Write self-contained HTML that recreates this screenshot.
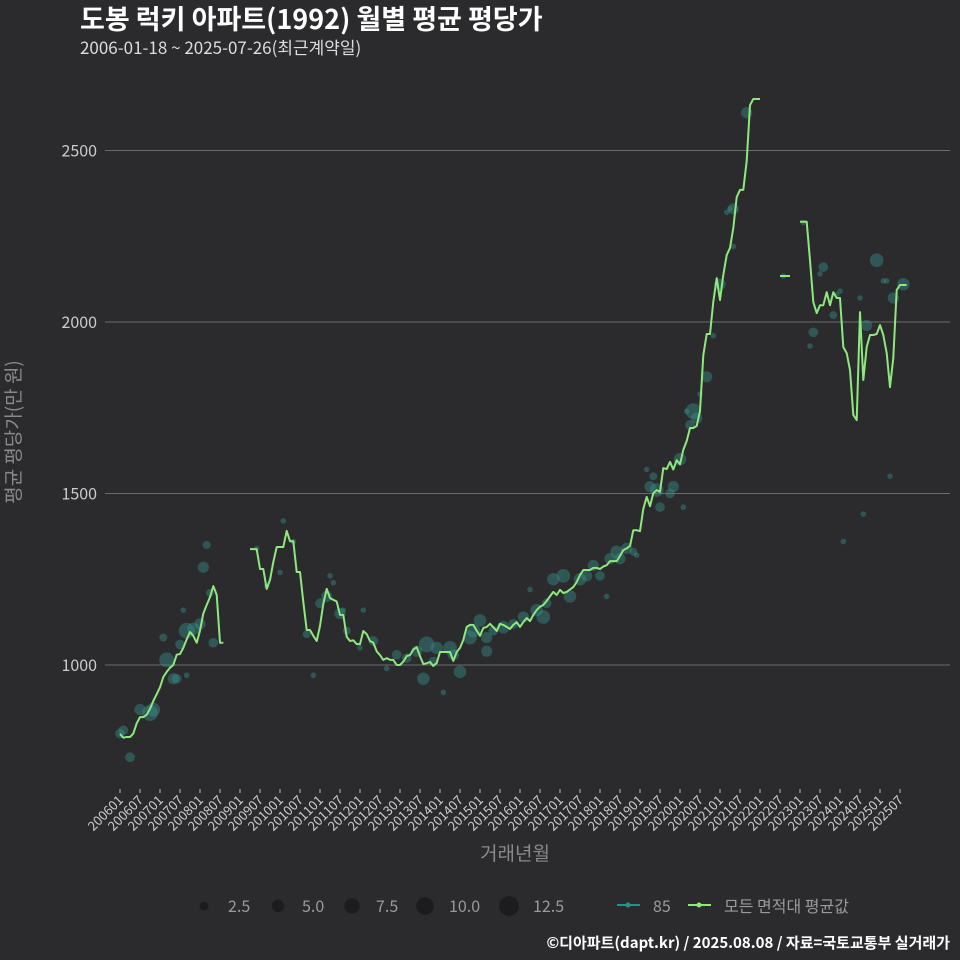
<!DOCTYPE html>
<html><head><meta charset="utf-8">
<style>
html,body{margin:0;padding:0;background:#2b2b2d;}
svg{display:block;font-family:"Noto Sans CJK KR","Liberation Sans",sans-serif;}
</style></head>
<body>
<svg id="chart" width="960" height="960" viewBox="0 0 960 960">
<rect width="960" height="960" fill="#2b2b2d"/>
<text x="80" y="29" fill="#ffffff" font-size="27" font-weight="bold">도봉 럭키 아파트(1992) 월별 평균 평당가</text>
<text x="80" y="54" fill="#dddddd" font-size="17">2006-01-18 ~ 2025-07-26(최근계약일)</text>
<g id="grid"></g>
<g id="yticks"></g>
<g id="xticks"></g>
<g id="bubbles"></g>
<g id="lines"></g>
<text x="20" y="432" fill="#8a8a8a" font-size="19" text-anchor="middle" transform="rotate(-90 20 432)">평균 평당가(만 원)</text>
<text x="515" y="860" fill="#8a8a8a" font-size="19" text-anchor="middle">거래년월</text>
<g id="legend"></g>
<text x="950" y="948" fill="#ffffff" font-size="15" font-weight="bold" text-anchor="end">©디아파트(dapt.kr) / 2025.08.08 / 자료=국토교통부 실거래가</text>
</svg>
<script>
const yTicks=[1000,1500,2000,2500];
const segStarts=[0,39,198,204];
const seg1=[799,788,790,790,800,830,848,848,855,872,895,915,935,965,980,992,1000,1030,1032,1050,1075,1096,1085,1065,1100,1150,1175,1198,1230,1205,1065,1065];
const seg2=[1338,1338,1338,1280,1280,1222,1248,1300,1344,1344,1344,1391,1361,1361,1271,1271,1184,1102,1102,1085,1070,1114,1178,1222,1195,1190,1185,1146,1146,1082,1070,1072,1061,1061,1099,1090,1070,1065,1040,1029,1015,1020,1015,1015,1000,1000,1010,1026,1029,1045,1052,1026,1003,1005,1009,997,1006,1038,1038,1038,1038,1012,1038,1050,1073,1111,1117,1117,1100,1085,1108,1111,1120,1110,1099,1120,1117,1111,1105,1117,1125,1111,1125,1137,1128,1146,1160,1170,1175,1187,1200,1213,1204,1219,1210,1213,1220,1227,1242,1262,1277,1277,1277,1283,1283,1280,1287,1291,1303,1303,1303,1318,1335,1340,1347,1393,1393,1390,1455,1490,1463,1501,1510,1505,1574,1571,1592,1570,1597,1585,1627,1653,1691,1691,1697,1740,1903,1965,1965,2059,2128,2064,2137,2195,2216,2274,2364,2385,2385,2470,2632,2650,2650,2650];
const seg3=[2134,2134,2134,2134];
const seg4=[2292,2292,2292,2180,2058,2026,2049,2049,2087,2049,2087,2070,2070,1927,1909,1860,1729,1714,2029,1831,1927,1962,1962,1965,1991,1962,1909,1810,1895,2093,2108,2108,2108];
const bubbleMonths=[0,1,6,3,9,10,14,16,17,13,18,20,22,24,25,26,28,19,20,27,41,44,48,49,52,58,56,62,64,63,60,66,68,67,73,72,76,80,83,86,89,92,91,95,94,97,99,100,102,105,106,108,110,110,112,115,118,121,125,123,127,128,130,133,135,138,140,142,144,146,147,149,150,152,154,155,158,159,160,161,162,165,166,168,169,170,171,172,173,174,176,178,180,182,184,183,184,188,199,205,207,208,210,211,214,215,216,217,222,223,224,227,229,231,232,235,230];
const bubbleValues=[800,810,870,731,860,870,1015,960,960,1080,1060,1100,1105,1120,1285,1350,1065,1160,970,1210,1340,1230,1270,1420,1360,970,1090,1200,1240,1260,1180,1150,1100,1160,1160,1050,1070,990,1030,1020,1040,1060,960,1050,1010,920,1050,1030,980,1080,1100,1130,1080,1040,1100,1110,1120,1140,1160,1220,1140,1180,1250,1260,1200,1250,1260,1290,1260,1200,1310,1330,1310,1340,1330,1320,1570,1520,1550,1510,1460,1500,1520,1600,1460,1740,1700,1740,1720,1790,1840,1960,2110,2320,2330,2330,2220,2610,2134,2290,1930,1970,2140,2160,2020,2080,2090,1360,2070,1440,1990,2180,2120,1550,2070,2110,2120];
const bubbleCounts=[3,3,4,3,8,6,7,4,3,2,3,8,5,4,4,2,3,1,1,2,1,1,1,1,1,1,2,4,1,1,3,4,2,1,1,1,3,1,3,3,4,8,5,5,3,1,6,4,5,6,6,5,4,4,3,5,3,4,5,1,6,3,5,6,5,5,4,4,3,1,4,5,4,4,2,1,1,4,2,6,3,3,4,5,1,1,3,8,4,1,4,1,4,1,4,1,1,4,1,1,1,3,1,3,2,1,1,1,1,1,4,6,1,1,4,5,1];
const xLabels=[];
for(let y=2006;y<=2025;y++){xLabels.push(y+"01");xLabels.push(y+"07");}

const NS="http://www.w3.org/2000/svg";
const L=105,R=950;
function xS(m){return 120+m*3.3333;}
function yS(v){return 665-(v-1000)*171.5/500;}
function mk(tag,attrs,parent){const e=document.createElementNS(NS,tag);for(const k in attrs)e.setAttribute(k,attrs[k]);parent.appendChild(e);return e;}

const grid=document.getElementById('grid'),yt=document.getElementById('yticks');
yTicks.forEach(v=>{
  const ln=mk('line',{x1:L,x2:R,y1:yS(v),y2:yS(v),stroke:'#6b6b6b','stroke-width':1},grid);
  
  
  const t=mk('text',{x:97,y:yS(v)+6,fill:'#cccccc','font-size':16,'text-anchor':'end'},yt);
  t.textContent=v;
  
  
});
const xt=document.getElementById('xticks');
xLabels.forEach((lab,i)=>{
  const x=xS(i*6);
  const tk=mk('line',{x1:x,x2:x,y1:789,y2:793,stroke:'#bbbbbb','stroke-width':1},xt);
  
  
  const t=mk('text',{x:x+4,y:801,fill:'#cccccc','font-size':13,'text-anchor':'end',transform:'rotate(-45 '+(x+4)+' 801)'},xt);
  t.textContent=lab;
  
  
});
const bg=document.getElementById('bubbles');
bubbleMonths.forEach((m,i)=>{
  const c=mk('circle',{cx:xS(m),cy:yS(bubbleValues[i]),r:2.8*Math.sqrt(bubbleCounts[i]),fill:'#3a9890','fill-opacity':0.4},bg);
  
  
});
const lg=document.getElementById('lines');
[seg1,seg2,seg3,seg4].forEach((s,k)=>{
  const d=s.map((v,i)=>(i?'L':'M')+xS(segStarts[k]+i).toFixed(1)+','+yS(v).toFixed(1)).join('');
  const p=mk('path',{d:d,fill:'none',stroke:'#8ee87e','stroke-width':2,'stroke-linejoin':'round'},lg);
  
  
});
const leg=document.getElementById('legend');
const sizes=[2.5,5.0,7.5,10.0,12.5],sx=[204,278,352,425,509];
sizes.forEach((s,i)=>{
  const c=mk('circle',{cx:sx[i],cy:906,r:2.8*Math.sqrt(s),fill:'#1c1c1e'},leg);
  
  
  const t=mk('text',{x:sx[i]+24,y:912,fill:'#9a9a9a','font-size':16},leg);
  t.textContent=s.toFixed(1);
  
  
});
const l1=mk('line',{x1:617,x2:640,y1:905,y2:905,stroke:'#2e8f8a','stroke-width':2},leg);


mk('circle',{cx:628,cy:905,r:2.5,fill:'#2e8f8a'},leg);
const t1=mk('text',{x:653,y:912,fill:'#9a9a9a','font-size':16},leg);t1.textContent='85';


const l2=mk('line',{x1:688,x2:711,y1:905,y2:905,stroke:'#8ee87e','stroke-width':2},leg);


mk('circle',{cx:699,cy:905,r:2.5,fill:'#8ee87e'},leg);
const t2=mk('text',{x:724,y:912,fill:'#9a9a9a','font-size':16},leg);t2.textContent='모든 면적대 평균값';


</script>
</body></html>
